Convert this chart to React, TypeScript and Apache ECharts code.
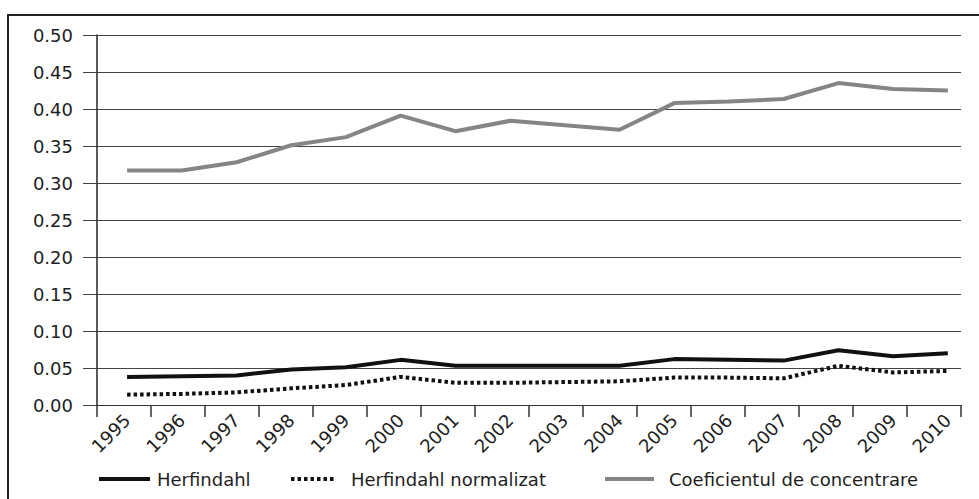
import React, { useEffect, useRef } from "react";
import * as echarts from "echarts";

const years = ["1995","1996","1997","1998","1999","2000","2001","2002","2003","2004","2005","2006","2007","2008","2009","2010"];
const herfindahl = [0.038,0.039,0.040,0.048,0.051,0.061,0.053,0.053,0.053,0.053,0.062,0.061,0.060,0.074,0.066,0.070];
const herfindahlNorm = [0.014,0.015,0.017,0.0225,0.027,0.038,0.030,0.030,0.031,0.032,0.037,0.037,0.036,0.053,0.044,0.046];
const coeficient = [0.317,0.317,0.328,0.351,0.362,0.391,0.370,0.384,0.378,0.372,0.408,0.410,0.4135,0.435,0.427,0.425];
const yTicks = [0,0.05,0.1,0.15,0.2,0.25,0.3,0.35,0.4,0.45,0.5];

const FONT = "DejaVu Sans";
const TXT = "#1e1e1e";

export default function App() {
  const ref = useRef<HTMLDivElement>(null);
  useEffect(() => {
    if (!ref.current) return;
    const chart = echarts.init(ref.current, null, { renderer: "svg" });
    const idx = years.map((_, i) => i);
    const pts = (arr: number[]) => arr.map((v, i) => [i, v]);
    const legendBase = {
      top: 465,
      itemHeight: 18,
      itemStyle: { opacity: 0 },
      lineStyle: { width: 4 },
    };
    chart.setOption({
      animation: false,
      backgroundColor: "#fff",
      textStyle: { fontFamily: FONT, color: TXT },
      graphic: [
        {
          type: "rect",
          shape: { x: 8, y: 15, width: 1000, height: 520 },
          style: { fill: "none", stroke: "#222", lineWidth: 2 },
          silent: true,
        },
      ],
      grid: { left: 97, top: 35, right: 18, bottom: 94, containLabel: false },
      xAxis: [
        {
          type: "category",
          data: years,
          boundaryGap: true,
          position: "bottom",
          axisLine: { show: true, onZero: false, lineStyle: { color: "#333", width: 1.2 } },
          axisTick: { show: true, length: 12, inside: false, lineStyle: { color: "#333", width: 1.5 } },
          axisLabel: { show: false },
          splitLine: { show: false },
        },
        {
          type: "value",
          min: -0.55,
          max: 15.24,
          position: "bottom",
          axisLine: { show: false, onZero: false },
          axisTick: { show: false },
          splitLine: { show: false },
          axisLabel: {
            show: true,
            customValues: idx,
            formatter: (v: number) => years[Math.round(v)] ?? "",
            rotate: 45,
            margin: 12,
            fontFamily: FONT,
            fontSize: 18,
            color: TXT,
          },
        },
      ],
      yAxis: {
        type: "value",
        position: "left",
        min: 0,
        max: 0.5,
        interval: 0.05,
        axisLine: { show: true, onZero: false, lineStyle: { color: "#222", width: 1.5 } },
        axisTick: { show: true, length: 14, inside: false, lineStyle: { color: "#444", width: 1 } },
        axisLabel: {
          margin: 24,
          fontFamily: FONT,
          fontSize: 18,
          color: TXT,
          customValues: yTicks,
          formatter: (v: number) => v.toFixed(2),
        },
        splitLine: { show: true, lineStyle: { color: "#444", width: 1 } },
      },
      legend: [
        {
          ...legendBase,
          data: ["Herfindahl"],
          left: 92,
          itemWidth: 51,
          textStyle: { fontFamily: FONT, fontSize: 18, color: TXT, padding: [0, 0, 0, 2] },
        },
        {
          ...legendBase,
          data: ["Herfindahl normalizat"],
          left: 284,
          itemWidth: 44,
          textStyle: { fontFamily: FONT, fontSize: 18, color: TXT, padding: [0, 0, 0, 11] },
        },
        {
          ...legendBase,
          data: ["Coeficientul de concentrare"],
          left: 598,
          itemWidth: 49,
          textStyle: { fontFamily: FONT, fontSize: 18, color: TXT, padding: [0, 0, 0, 10] },
        },
      ],
      series: [
        {
          name: "Coeficientul de concentrare",
          type: "line",
          xAxisIndex: 1,
          data: pts(coeficient),
          symbol: "none",
          lineStyle: { color: "#858585", width: 4 },
          itemStyle: { color: "#858585" },
        },
        {
          name: "Herfindahl",
          type: "line",
          xAxisIndex: 1,
          data: pts(herfindahl),
          symbol: "none",
          lineStyle: { color: "#111", width: 4 },
          itemStyle: { color: "#111" },
        },
        {
          name: "Herfindahl normalizat",
          type: "line",
          xAxisIndex: 1,
          data: pts(herfindahlNorm),
          symbol: "none",
          lineStyle: { color: "#111", width: 4, type: [3.5, 3] },
          itemStyle: { color: "#111" },
        },
      ],
    });
    return () => chart.dispose();
  }, []);
  return (
    <div
      ref={ref}
      style={{ position: "fixed", left: 0, top: 0, width: 979, height: 499, background: "#fff" }}
    />
  );
}
